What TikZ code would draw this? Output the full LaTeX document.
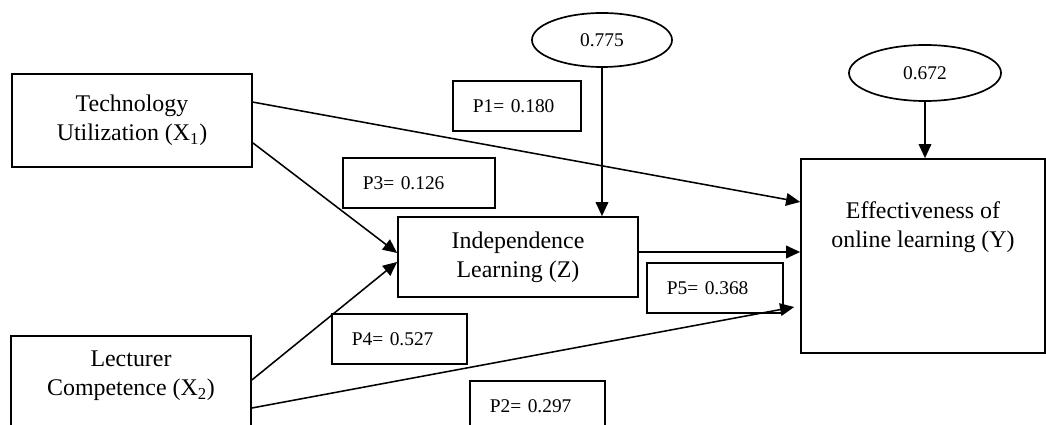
\documentclass[tikz,border=0pt]{standalone}
\usepackage{fontspec}
\setmainfont{Liberation Serif}
\usepackage{tikz}
\usetikzlibrary{arrows.meta,positioning,shapes.geometric}

\begin{document}
\begin{tikzpicture}[
  x=0.025cm, y=-0.025cm,
  var/.style={draw, line width=1.2pt, minimum width=6cm, align=center, font=\fontsize{17}{20.5}\selectfont},
  vtxt/.style={align=center, font=\fontsize{17}{20.5}\selectfont},
  pbox/.style={draw, line width=1.2pt, anchor=north west, inner xsep=0.5cm, minimum height=1.25cm, text width=#1, align=left, font=\fontsize{13.8}{16}\selectfont},
  err/.style={draw, ellipse, line width=1.2pt, font=\fontsize{13.8}{16}\selectfont},
  arr/.style={line width=1.1pt, -{Triangle[length=10pt, width=9pt]}}
]
\useasboundingbox (0,0) rectangle (1046,425);

% variables
\node[var, minimum height=2.325cm] (tech) at (132,120.5) {Technology\\Utilization (X\textsubscript{1})};
\node[var, minimum height=3.1cm] (lect) at (131,398) {};
\node[vtxt] (lecttxt) at (131,376) {Lecturer\\Competence (X\textsubscript{2})};
\node[var, minimum height=2cm] (indep) at (518,257) {Independence\\Learning (Z)};
\node[var, minimum width=6.1cm, minimum height=4.85cm] (eff) at (923,256) {};
\node[vtxt] (efftxt) at (923,227) {Effectiveness of\\online learning (Y)};

% residuals
\node[err, minimum width=3.5cm, minimum height=1.35cm] (e1) at (602,40) {0.775};
\node[err, minimum width=3.8cm, minimum height=1.4cm] (e2) at (925,73) {0.672};

% path coefficients
\foreach \nm/\lb/\px/\py/\tw/\val in {
  p1/P1/452/80/2.2cm/0.180,
  p3/P3/342/157/2.8cm/0.126,
  p4/P4/331/313/2.375cm/0.527,
  p5/P5/646/262/2.4cm/0.368,
  p2/P2/469/380/2.375cm/0.297} {
  \node[pbox=\tw] (\nm) at (\px,\py) {\lb= \val};
}

% arrows
\draw[arr] ([yshift=0.46cm]tech.east) -- ([yshift=1.35cm]eff.west);
\draw[arr] ([yshift=-0.56cm]tech.east) -- ([yshift=0.1cm]indep.west);
\draw[arr] ([yshift=0.45cm]lect.east) -- ([yshift=-0.125cm]indep.west);
\draw[arr] ([yshift=-0.25cm]lect.east) -- ([xshift=-0.15cm, yshift=-1.275cm]eff.west);
\draw[arr] ([yshift=0.125cm]indep.east) -- ([yshift=0.125cm]indep.east -| eff.west);
\draw[arr] (e1.south) -- (e1.south |- indep.north);
\draw[arr] (e2.south) -- (e2.south |- eff.north);
\end{tikzpicture}
\end{document}
